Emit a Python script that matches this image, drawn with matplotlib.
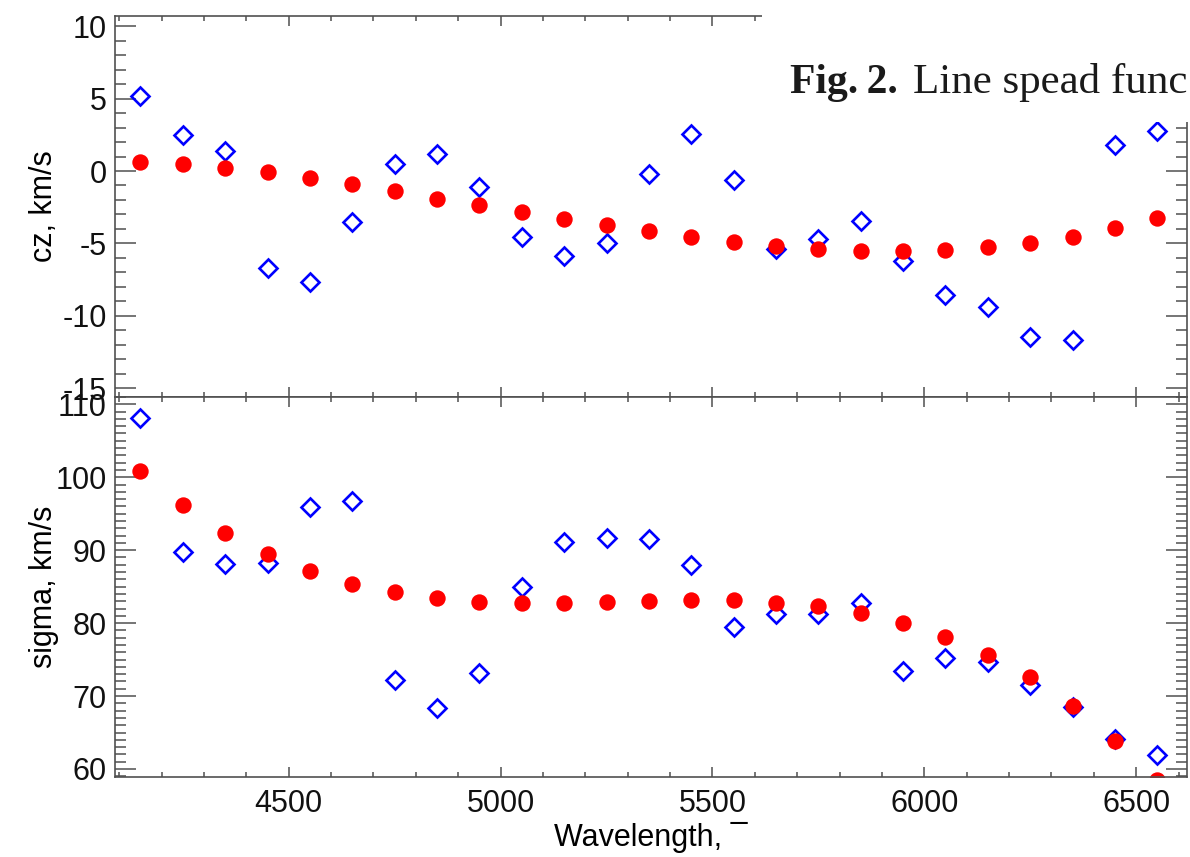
import matplotlib
matplotlib.use("Agg")
import matplotlib.pyplot as plt
from matplotlib.patches import Rectangle
from matplotlib.ticker import MultipleLocator

plt.rcParams['font.family'] = ['Liberation Sans', 'DejaVu Sans']
plt.rcParams['axes.unicode_minus'] = False

wavelength = [4150, 4250, 4350, 4450, 4550, 4650, 4750, 4850, 4950, 5050,
              5150, 5250, 5350, 5450, 5550, 5650, 5750, 5850, 5950, 6050,
              6150, 6250, 6350, 6450, 6550]

cz_fit = [0.6, 0.45, 0.2, -0.1, -0.5, -0.9, -1.4, -1.9, -2.35, -2.8,
          -3.3, -3.7, -4.15, -4.55, -4.9, -5.2, -5.4, -5.5, -5.55, -5.45,
          -5.25, -4.95, -4.55, -3.95, -3.25]
cz_meas = [5.2, 2.5, 1.4, -6.7, -7.65, -3.5, 0.5, 1.2, -1.1, -4.55,
           -5.9, -5.0, -0.2, 2.55, -0.6, -5.4, -4.7, -3.45, -6.2, -8.55,
           -9.4, -11.45, -11.65, 1.8, 2.75]

sigma_fit = [100.9, 96.2, 92.4, 89.5, 87.1, 85.4, 84.2, 83.4, 82.9, 82.7,
             82.7, 82.9, 83.0, 83.1, 83.1, 82.8, 82.3, 81.4, 80.0, 78.1,
             75.6, 72.6, 68.6, 63.8, 58.5]
sigma_meas = [108.1, 89.7, 88.1, 88.2, 95.9, 96.7, 72.2, 68.4, 73.1, 84.9,
              91.1, 91.6, 91.5, 87.9, 79.5, 81.2, 81.2, 82.8, 73.5, 75.2,
              74.7, 71.5, 68.5, 64.1, 61.9]

cz_ticks = [-15, -10, -5, 0, 5, 10]
sigma_ticks = [60, 70, 80, 90, 100, 110]
wl_ticks = [4500, 5000, 5500, 6000, 6500]

W, H = 1190, 857
fig = plt.figure(figsize=(W / 100, H / 100), dpi=100)

L, R = 115, 1187
ax1 = fig.add_axes([L / W, 1 - 397 / H, (R - L) / W, (397 - 16) / H])
ax2 = fig.add_axes([L / W, 1 - 777 / H, (R - L) / W, (777 - 397) / H])

spine_col = '#505050'
FS = 22
for ax in (ax1, ax2):
    for s in ax.spines.values():
        s.set_color(spine_col)
        s.set_linewidth(1.2)
    ax.tick_params(which='both', direction='in', top=True, right=True,
                   color=spine_col, width=1.1, labelsize=FS,
                   labelcolor='#111111')
    ax.tick_params(axis='y', which='major', length=15, pad=6)
    ax.tick_params(axis='y', which='minor', length=8)
    ax.tick_params(axis='x', which='major', length=7, pad=8.5)
    ax.tick_params(axis='x', which='minor', length=3.5)
    ax.set_xlim(4090, 6620)
    ax.xaxis.set_major_locator(MultipleLocator(500))
    ax.xaxis.set_minor_locator(MultipleLocator(100))

# top panel
ax1.plot(wavelength, cz_meas, linestyle='none', marker='D', ms=9.5,
         mfc='none', mec='#0000FF', mew=1.9)
ax1.plot(wavelength, cz_fit, linestyle='none', marker='o', ms=11.8,
         mfc='#FF0000', mec='#FF0000', mew=0)
ax1.set_ylim(-15.6, 10.7)
ax1.set_yticks(cz_ticks)
ax1.yaxis.set_minor_locator(MultipleLocator(1))
ax1.tick_params(labelbottom=False)
ax1.set_ylabel('cz, km/s', fontsize=FS)
ax1.yaxis.set_label_coords(-0.052, 0.5)

# bottom panel
ax2.plot(wavelength, sigma_meas, linestyle='none', marker='D', ms=9.5,
         mfc='none', mec='#0000FF', mew=1.9)
ax2.plot(wavelength, sigma_fit, linestyle='none', marker='o', ms=11.8,
         mfc='#FF0000', mec='#FF0000', mew=0)
ax2.set_ylim(58.9, 111)
ax2.set_yticks(sigma_ticks)
ax2.yaxis.set_minor_locator(MultipleLocator(1))
ax2.set_xticks(wl_ticks)
ax2.set_xticklabels([str(t) for t in wl_ticks])
ax2.set_ylabel('sigma, km/s', fontsize=FS)
ax2.yaxis.set_label_coords(-0.052, 0.5)
ax2.set_xlabel('Wavelength, \u00af', fontsize=FS, labelpad=2)

# caption overlay (white box covering the top-right corner)
fig.add_artist(Rectangle((762 / W, 1 - 122 / H), 1 - 762 / W, 122 / H,
                         transform=fig.transFigure, facecolor='white',
                         edgecolor='none', zorder=10))
serif = ['Liberation Serif', 'DejaVu Serif']
fig.text(790 / W, 1 - 93 / H, 'Fig.\u20092.', fontsize=30,
         fontweight='bold', family=serif, color='#1a1a1a',
         ha='left', va='baseline', zorder=11)
fig.text(913 / W, 1 - 93 / H, 'Line spead func', fontsize=31,
         family=serif, color='#1a1a1a',
         ha='left', va='baseline', zorder=11)

fig.savefig('out.png', dpi=100)
